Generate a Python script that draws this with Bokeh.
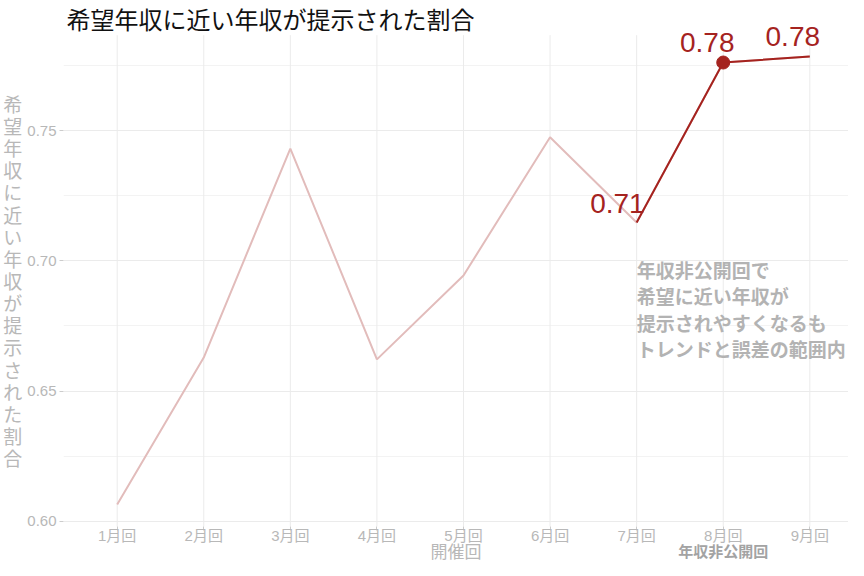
from bokeh.plotting import figure
from bokeh.models import Range1d, FixedTicker, PrintfTickFormatter, Label, LinearAxis
from bokeh.embed import file_html
from bokeh.resources import INLINE

# ---- data ----
rounds = [1, 2, 3, 4, 5, 6, 7, 8, 9]
round_labels = ["1月回", "2月回", "3月回", "4月回", "5月回", "6月回", "7月回", "8月回", "9月回"]
ratio = [0.6065, 0.6629, 0.7431, 0.6622, 0.6944, 0.7474, 0.7147, 0.7761, 0.7784]
highlight_rounds = [7, 8, 9]
highlight_ratio = [0.7147, 0.7761, 0.7784]
label_texts = ["0.71", "0.78", "0.78"]
point_round = [8]
point_ratio = [0.7761]
y_ticks = [0.60, 0.65, 0.70, 0.75]
y_minor = [0.625, 0.675, 0.725, 0.775]
hidden_round = [8]

title = "希望年収に近い年収が提示された割合"
y_title = "希望年収に近い年収が提示された割合"
x_title = "開催回"
note = "年収非公開回で\n希望に近い年収が\n提示されやすくなるも\nトレンドと誤差の範囲内"
hidden_label = "年収非公開回"

JP = "Noto Sans CJK JP"
MIX = "'Liberation Sans', 'Noto Sans CJK JP'"
DARK = "#a5231f"
FADED = "#e2bcbb"
GRAY = "#b8b8b8"

Y_LO = 0.5981        # bottom edge of the plotting panel
Y_PANEL_TOP = 0.7866 # top edge of the plotting panel
Y_TOP = 0.7999       # canvas top (room for title and labels)
Y_BOTTOM = 0.58501   # canvas bottom (room for axis texts)
X_LO, X_HI = 0.380, 9.447

p = figure(width=848, height=560, output_backend="svg", toolbar_location=None,
           x_range=Range1d(X_LO, X_HI), y_range=Range1d(Y_BOTTOM, Y_TOP),
           min_border_left=57, min_border_right=0, min_border_bottom=0, min_border_top=0)

p.outline_line_color = None
p.background_fill_color = "white"
p.border_fill_color = "white"

# axes
p.xaxis.ticker = FixedTicker(ticks=rounds)
p.xaxis.major_label_overrides = {r: l for r, l in zip(rounds, round_labels)}
p.xaxis.fixed_location = Y_LO
p.yaxis.ticker = FixedTicker(ticks=y_ticks, minor_ticks=y_minor)
p.yaxis.formatter = PrintfTickFormatter(format="%.2f")
for ax in (p.xaxis, p.yaxis):
    ax.axis_line_color = None
    ax.major_tick_line_color = "#cccccc"
    ax.major_tick_out = 4
    ax.major_tick_in = 0
    ax.minor_tick_out = 0
    ax.minor_tick_line_color = None
    ax.major_label_text_font = MIX
    ax.major_label_text_font_size = "15px"
    ax.major_label_text_color = GRAY
    ax.axis_label_text_font = JP
    ax.axis_label_text_font_style = "normal"
    ax.axis_label_text_font_size = "19px"
    ax.axis_label_text_color = GRAY
p.xaxis.major_label_standoff = -3
p.yaxis.major_label_standoff = 3
p.yaxis.axis_label = "\n".join(list(y_title))
p.yaxis.axis_label_orientation = "horizontal"
p.yaxis.axis_label_standoff = 2
p.yaxis.axis_label_text_line_height = 0.82

# second axis below: hidden-salary note + x title
ax2 = LinearAxis(ticker=FixedTicker(ticks=hidden_round),
                 major_label_overrides={hidden_round[0]: hidden_label})
ax2.fixed_location = Y_LO
ax2.axis_line_color = None
ax2.major_tick_line_color = None
ax2.minor_tick_line_color = None
ax2.major_tick_out = 0
ax2.major_tick_in = 0
ax2.minor_tick_out = 0
ax2.major_label_standoff = 17
ax2.major_label_text_font = MIX
ax2.major_label_text_font_size = "15px"
ax2.major_label_text_font_style = "bold"
ax2.major_label_text_color = "#a3a3a3"
ax2.axis_label = x_title
ax2.axis_label_text_font = MIX
ax2.axis_label_text_font_style = "normal"
ax2.axis_label_text_font_size = "17px"
ax2.axis_label_text_color = GRAY
ax2.axis_label_standoff = -21
p.add_layout(ax2, "below")

# grid
p.xgrid.grid_line_color = None
p.ygrid.grid_line_color = "#ebebeb"
p.ygrid.grid_line_width = 1
p.ygrid.minor_grid_line_color = "#f3f3f3"
p.ygrid.minor_grid_line_width = 1
p.segment(x0=rounds, y0=[Y_LO] * len(rounds), x1=rounds, y1=[Y_PANEL_TOP] * len(rounds),
          line_color="#ebebeb", line_width=1)

# lines
p.line(rounds, ratio, line_color=FADED, line_width=2)
p.line(highlight_rounds, highlight_ratio, line_color=DARK, line_width=2)
p.scatter(point_round, point_ratio, size=13, fill_color=DARK, line_color=DARK)

# value labels
offsets = [(8, 19, "right"), (-16, 20, "center"), (-17, 20, "center")]
for xr, yr, t, (dx, dy, al) in zip(highlight_rounds, highlight_ratio, label_texts, offsets):
    p.add_layout(Label(x=xr, y=yr, text=t, x_offset=dx, y_offset=dy,
                       text_font="Liberation Sans", text_font_size="28px",
                       text_color=DARK, text_align=al, text_baseline="middle"))

# annotation
p.add_layout(Label(x=7, y=0.7020, text=note, text_font=JP, text_font_size="19px",
                   text_font_style="bold", text_color="#b3b3b3", text_align="left",
                   text_baseline="top", text_line_height=0.98))

# title
p.add_layout(Label(x=X_LO, y=Y_TOP, x_offset=3, text=title, text_font=JP,
                   text_font_size="24px", text_color="#111111",
                   text_align="left", text_baseline="top"))

open("out.html", "w").write(file_html(p, INLINE))
